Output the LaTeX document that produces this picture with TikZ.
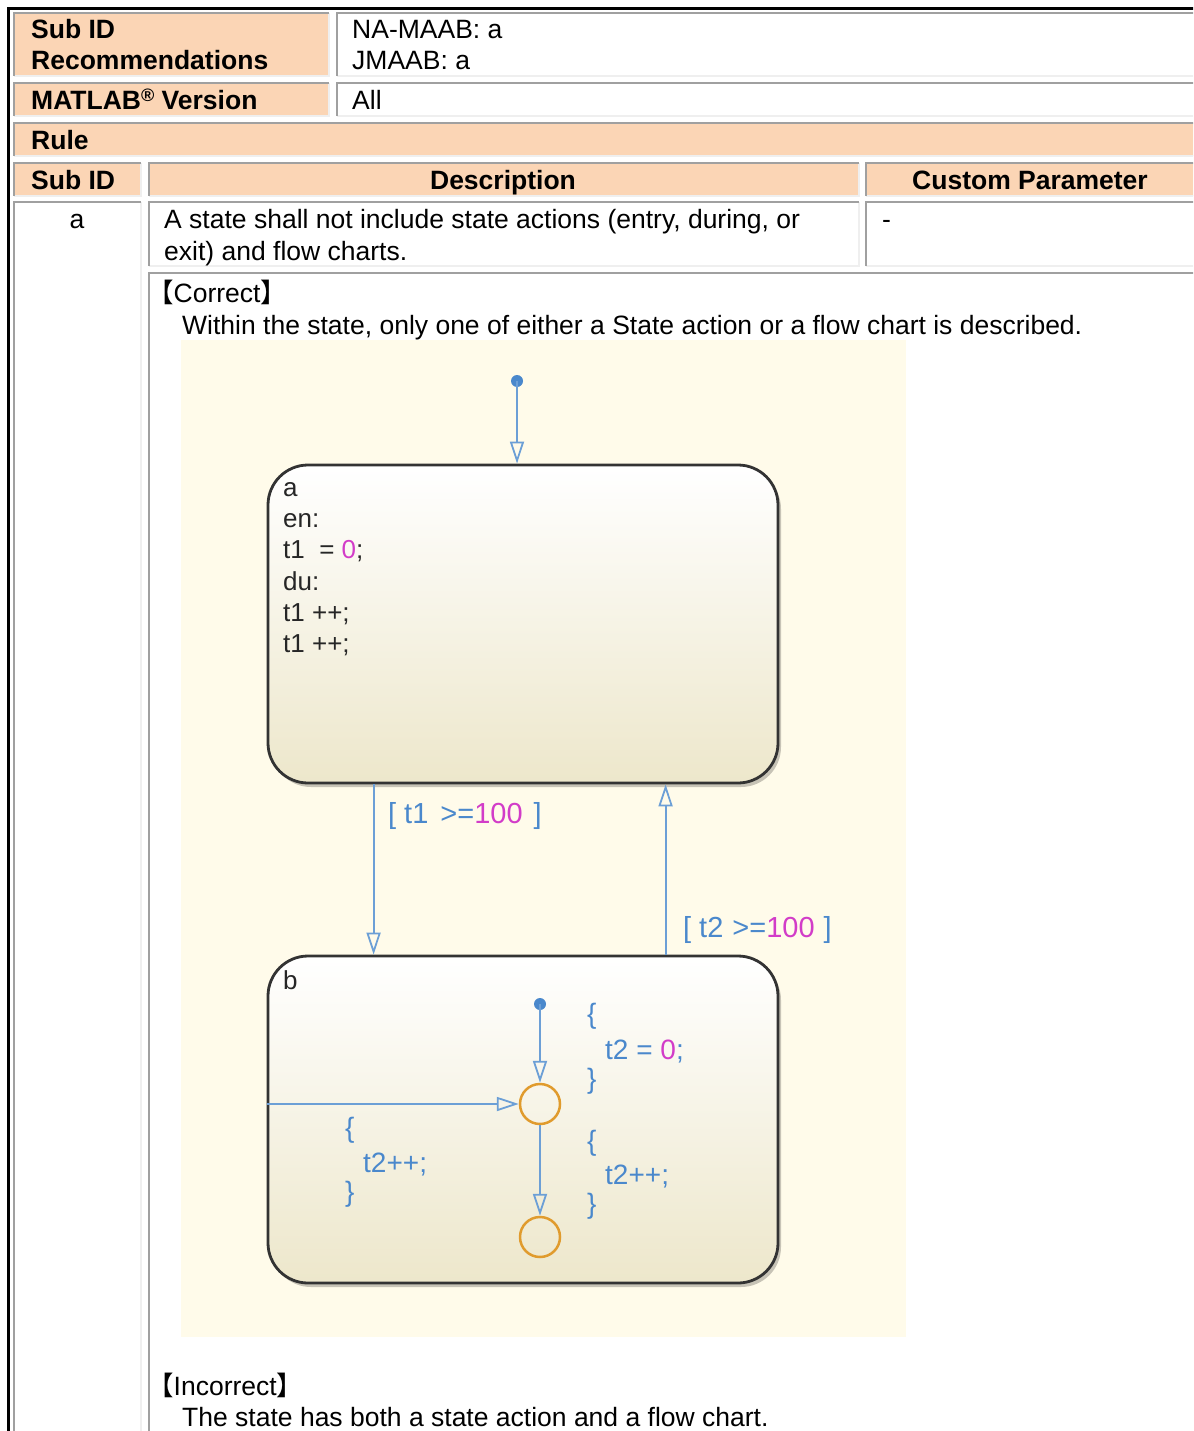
\documentclass[tikz,border=0pt]{standalone}
\usepackage{fontspec}
\setmainfont{Liberation Sans}
\newfontfamily\cjkf{Noto Sans CJK JP}
\newfontfamily\sff{Liberation Sans}
\usetikzlibrary{arrows.meta,shadows}

\definecolor{peach}{HTML}{FBD5B5}
\definecolor{bdark}{HTML}{A0A0A0}
\definecolor{blight}{HTML}{EFEFEF}
\definecolor{chartbg}{HTML}{FFFBEA}
\definecolor{stbot}{HTML}{EDE7CB}
\definecolor{stedge}{HTML}{333333}
\definecolor{trline}{HTML}{6C9FD6}
\definecolor{sfblue}{HTML}{4A88CC}
\definecolor{sfmag}{HTML}{D23CC8}
\definecolor{juncol}{HTML}{E09B2D}

\newcommand{\tcell}[5]{%
 \fill[#5] (#1,#2) rectangle (#3,#4);
 \draw[blight,line width=2pt] (#1,#4)--(#3,#4)--(#3,#2);
 \draw[bdark,line width=2pt] (#1,#4)--(#1,#2)--(#3,#2);}

\tikzset{
 tb/.style={font=\fontsize{26.5}{31}\selectfont, inner sep=0pt, anchor=base west},
 tbb/.style={tb, font=\fontsize{26.5}{31}\selectfont\bfseries},
 stbox/.style={draw=stedge, line width=2.8pt, rounded corners=40pt,
   top color=white, bottom color=stbot, inner sep=0pt,
   minimum width=510pt,
   drop shadow={shadow xshift=3pt, shadow yshift=-4pt, opacity=0.22, fill=black}},
 sttext/.style={font=\sff\fontsize{26}{31}\selectfont, inner sep=0pt, anchor=base west, text=black!85},
 lbl/.style={font=\sff\fontsize{28}{31}\selectfont, inner sep=0pt, anchor=base west, text=sfblue},
 tr/.style={draw=trline, line width=2pt, -{Triangle[open, length=22pt, width=14pt, line width=1.8pt]}},
 dotn/.style={circle, fill=sfblue, minimum size=12pt, inner sep=0pt},
 junc/.style={circle, draw=juncol, line width=2.5pt, minimum size=40pt, inner sep=0pt}
}

\begin{document}
\begin{tikzpicture}[x=1pt,y=-1pt]
\useasboundingbox (0,0) rectangle (1193,1431);
\clip (0,0) rectangle (1193,1431);
\fill[white] (0,0) rectangle (1193,1431);

% table cells
\tcell{14}{13}{329}{76}{peach}
\tcell{337}{13}{1200}{76}{white}
\tcell{14}{83}{329}{116}{peach}
\tcell{337}{83}{1200}{116}{white}
\tcell{14}{123}{1200}{156}{peach}
\tcell{14}{163}{141}{196}{peach}
\tcell{149}{163}{859}{196}{peach}
\tcell{866}{163}{1200}{196}{peach}
\tcell{14}{202}{141}{1440}{white}
\tcell{149}{202}{859}{266}{white}
\tcell{866}{202}{1200}{266}{white}
\tcell{149}{273}{1200}{1440}{white}
\draw[black,line width=2.5pt] (8.5,1440)--(8.5,8.5)--(1200,8.5);

% table texts
\node[tbb] (h1) at (31,39) {Sub ID};
\node[tbb] (h2) at (31,70) {Recommendations};
\node[tb] (v1) at (352,39) {NA-MAAB: a};
\node[tb] (v2) at (352,70) {JMAAB: a};
\node[tbb] (h3) at (31,110) {MATLAB{\fontsize{18}{20}\selectfont\raisebox{8pt}{®}} Version};
\node[tb] (v3) at (352,110) {All};
\node[tbb] (h4) at (31,150) {Rule};
\node[tbb] (h5) at (31,190) {Sub ID};
\node[tbb, anchor=base] (h6) at (503,190) {Description};
\node[tbb, anchor=base] (h7) at (1030,190) {Custom Parameter};
\node[tb, anchor=base] (r1) at (77,229) {a};
\node[tb] (r2) at (164,229) {A state shall not include state actions (entry, during, or};
\node[tb] (r3) at (164,260) {exit) and flow charts.};
\node[tb] (r4) at (882,229) {-};
\node[tb] (c1) at (147,302) {{\cjkf 【}Correct{\cjkf 】}};
\node[tb] (c2) at (182,334) {Within the state, only one of either a State action or a flow chart is described.};
\node[tb] (i1) at (147,1395) {{\cjkf 【}Incorrect{\cjkf 】}};
\node[tb] (i2) at (182,1426) {The state has both a state action and a flow chart.};

% chart
\fill[chartbg] (181,340) rectangle (906,1337);
\node[stbox, minimum height=318pt] (sa) at (523,624) {};
\node[stbox, minimum height=327pt] (sb) at (523,1119.5) {};

\node[sttext] (a0) at (283,496) {a};
\node[sttext] (a1) at (283,527) {en:};
\node[sttext] (a2) at (283,558) {t1\ \ = \textcolor{sfmag}{0};};
\node[sttext] (a3) at (283,590) {du:};
\node[sttext] (a4) at (283,621) {t1 ++;};
\node[sttext] (a5) at (283,652) {t1 ++;};
\node[sttext] (b0) at (283,989) {b};

\node[dotn] (d1) at (517,381) {};
\draw[tr] (d1.center) -- (d1 |- sa.north);
\draw[tr] ([xshift=107pt]sa.south west) -- ([xshift=107pt]sb.north west);
\draw[tr] ([xshift=399pt]sb.north west) -- ([xshift=399pt]sa.south west);
\node[lbl, font=\sff\fontsize{29}{31}\selectfont] (l1) at (388,823) {[\hspace{8pt}t1\hspace{12pt}>=\textcolor{sfmag}{100}\hspace{11pt}]};
\node[lbl, font=\sff\fontsize{29}{31}\selectfont] (l2) at (683,937) {[\hspace{8pt}t2\hspace{9pt}>=\textcolor{sfmag}{100}\hspace{9pt}]};

\node[dotn] (d2) at (540,1004) {};
\node[junc] (j1) at (540,1104) {};
\node[junc] (j2) at (540,1237) {};
\draw[tr] (d2.center) -- (j1.north);
\draw[tr] (j1.south) -- (j2.north);
\draw[tr] (sb.west |- j1.center) -- (j1.west);

\node[lbl] (k1) at (587,1023) {\{};
\node[lbl] (k2) at (605,1059) {t2 = \textcolor{sfmag}{0};};
\node[lbl] (k3) at (587,1088) {\}};
\node[lbl] (k4) at (587,1150) {\{};
\node[lbl] (k5) at (605,1184) {t2++;};
\node[lbl] (k6) at (587,1213) {\}};
\node[lbl] (k7) at (345,1137) {\{};
\node[lbl] (k8) at (363,1172) {t2++;};
\node[lbl] (k9) at (345,1201) {\}};
\end{tikzpicture}
\end{document}
